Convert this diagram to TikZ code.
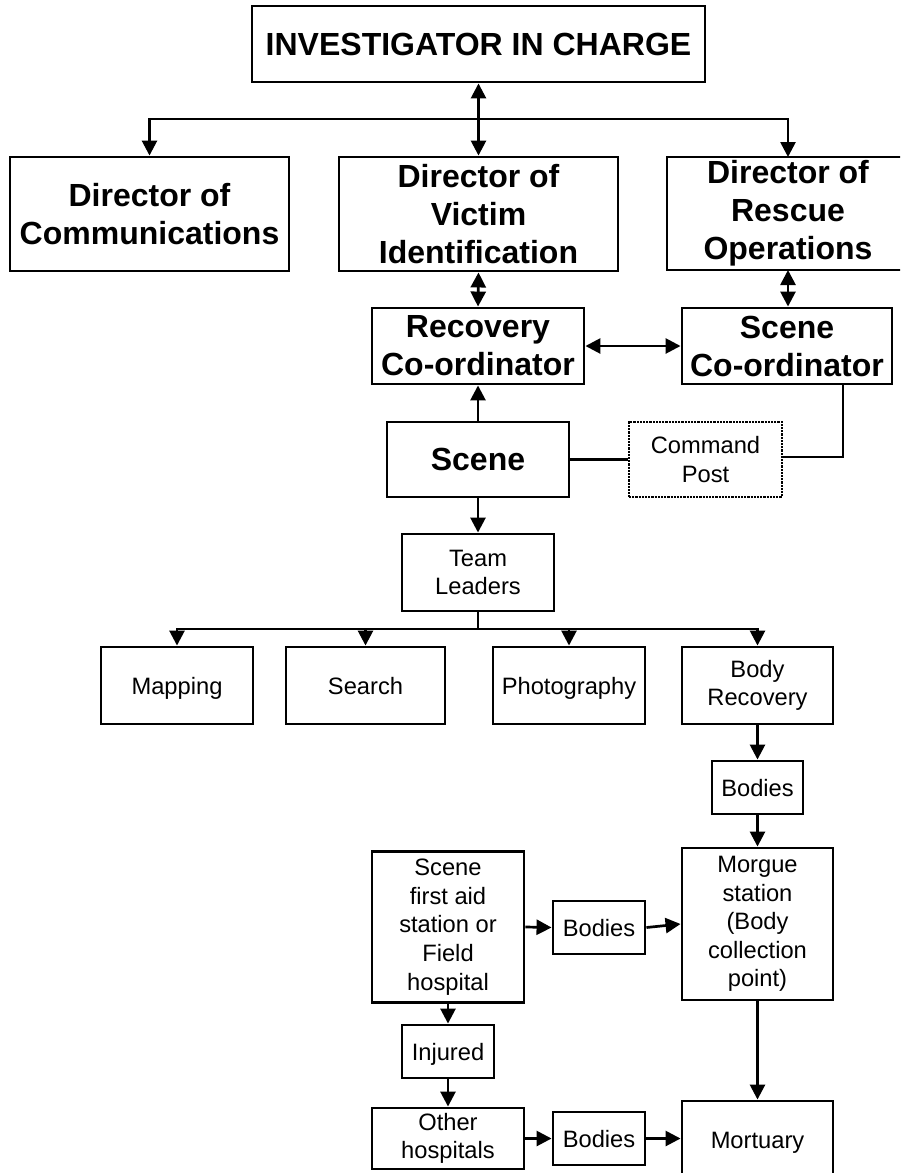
\documentclass[tikz,border=0pt]{standalone}
\usepackage{fontspec}
\setmainfont{Liberation Sans}
\usetikzlibrary{arrows.meta,calc}
\begin{document}
\begin{tikzpicture}[x=1pt,y=-1pt,
  box/.style={draw,line width=2.9pt,inner sep=0pt,align=center,minimum width=#1},
  bigtxt/.style={font=\fontsize{32}{38}\selectfont\bfseries},
  smalltxt/.style={font=\fontsize{23.7}{28.6}\selectfont},
  oneline/.style={text height=17pt,text depth=0pt},
  conn/.style={line width=2.7pt},
  arr/.style={conn,-{Triangle[length=15pt,width=15pt]}},
  darr/.style={conn,{Triangle[length=15pt,width=15pt]}-{Triangle[length=15pt,width=15pt]}},
  dotbox/.style={draw,line width=2.6pt,dash pattern=on 2.2pt off 1pt,inner sep=0pt,align=center,minimum width=#1}]
\clip (0,0) rectangle (900,1173);
\fill[white] (0,0) rectangle (900,1173);
% top level
\node[box=453pt,minimum height=76pt,bigtxt] (top) at (478.5,44) {INVESTIGATOR IN CHARGE};
\node[box=279pt,minimum height=114pt,bigtxt] (comm) at (149.5,214) {Director of\\Communications};
\node[box=279pt,minimum height=114pt,bigtxt] (victim) at (478.5,214) {Director of\\Victim\\Identification};
\node[box=242pt,minimum height=113pt,bigtxt] (rescue) at (788,213.5) {Director of\\Rescue\\Operations};
\node[box=212pt,minimum height=76pt,bigtxt] (recovery) at (478,346) {Recovery\\Co-ordinator};
\node[box=210pt,minimum height=76pt,bigtxt] (sceneco) at (787,346) {Scene\\Co-ordinator};
\node[box=182pt,minimum height=75pt,bigtxt] (scene) at (478,459.5) {Scene};
\node[dotbox=153pt,minimum height=75pt,smalltxt] (cp) at (705.5,459.5) {Command\\Post};
\node[box=152pt,minimum height=77pt,smalltxt] (team) at (478,572.5) {Team\\Leaders};
\node[box=152pt,minimum height=77pt,smalltxt,oneline] (mapping) at (177,685.5) {Mapping};
\node[box=159pt,minimum height=77pt,smalltxt,oneline] (search) at (365.5,685.5) {Search};
\node[box=152pt,minimum height=77pt,smalltxt,oneline] (photo) at (569,685.5) {Photography};
\node[box=151pt,minimum height=77pt,smalltxt] (bodyrec) at (757.5,685.5) {Body\\Recovery};
\node[box=91pt,minimum height=53pt,smalltxt,oneline] (bodies1) at (757.5,787.5) {Bodies};
\node[box=151pt,minimum height=152pt,smalltxt] (morgue) at (757.5,924) {Morgue\\station\\(Body\\collection\\point)};
\node[box=152pt,minimum height=151pt,smalltxt] (firstaid) at (448,927) {Scene\\first aid\\station or\\Field\\hospital};
\node[box=92pt,minimum height=53pt,smalltxt,oneline] (bodies2) at (599,927.5) {Bodies};
\node[box=92pt,minimum height=53pt,smalltxt,oneline] (injured) at (448,1051.5) {Injured};
\node[box=152pt,minimum height=61pt,smalltxt] (other) at (448,1138.5) {Other\\hospitals};
\node[box=92pt,minimum height=53pt,smalltxt,oneline] (bodies3) at (599,1138.5) {Bodies};
\node[box=151pt,minimum height=78pt,smalltxt,oneline] (mortuary) at (757.5,1140) {Mortuary};
% junctions
\coordinate (j1) at (478.5,119);
\coordinate (j2) at (478,629);
\coordinate (rescuetop) at (788,157);
\coordinate (rescuebot) at (788,270);
\coordinate (scbot) at (843,383);
\coordinate (cpturn) at (843,457);
% connectors
\draw[darr] (top.south) -- (victim.north);
\draw[arr] (j1) -| (comm.north);
\draw[arr] (j1) -| (rescuetop);
\draw[darr] (victim.south) -- (recovery.north);
\draw[darr] (rescuebot) -- (rescuebot |- sceneco.north);
\draw[darr] (recovery.east) -- (sceneco.west);
\draw[arr] (scene.north) -- (recovery.south);
\draw[conn] (scene.east) -- (cp.west);
\draw[conn] (cp.east |- cpturn) -- (cpturn) -- (scbot);
\draw[arr] (scene.south) -- (team.north);
\draw[conn] (team.south) -- (j2);
\draw[arr] (j2) -| (mapping.north);
\draw[arr] (j2) -| (search.north);
\draw[arr] (j2) -| (photo.north);
\draw[arr] (j2) -| (bodyrec.north);
\draw[arr] (bodyrec.south) -- (bodies1.north);
\draw[arr] (bodies1.south) -- (morgue.north);
\draw[arr] (firstaid.east) -- (bodies2.west);
\draw[arr] (bodies2.east) -- (morgue.west);
\draw[arr] (firstaid.south) -- (injured.north);
\draw[arr] (injured.south) -- (other.north);
\draw[arr] (other.east) -- (bodies3.west);
\draw[arr] (bodies3.east) -- (bodies3.east -| mortuary.west);
\draw[arr] (morgue.south) -- (mortuary.north);
\end{tikzpicture}
\end{document}
